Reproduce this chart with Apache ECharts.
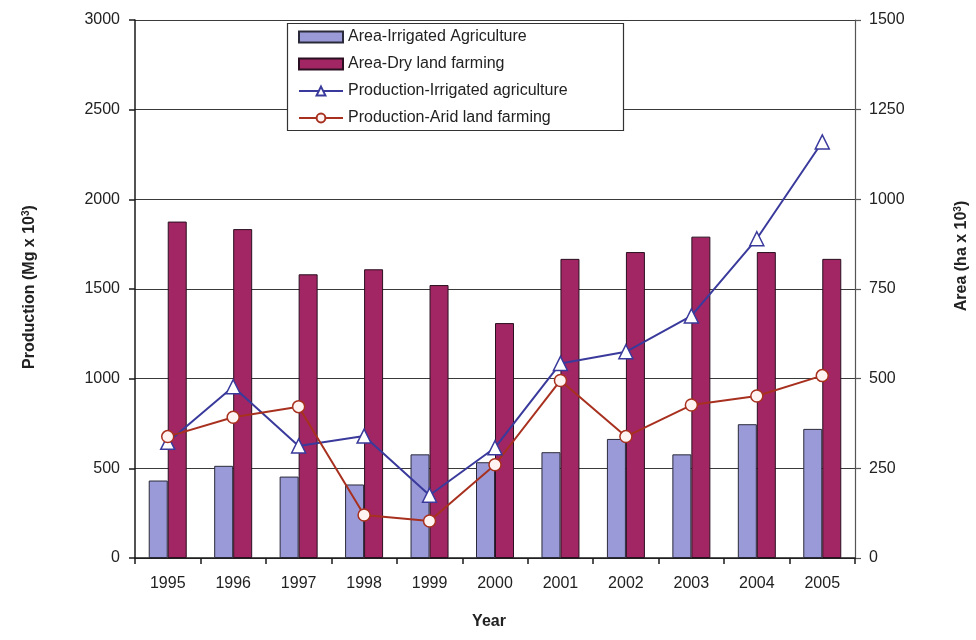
<!DOCTYPE html>
<html>
<head>
<meta charset="utf-8">
<title>Production and area, 1995–2005</title>
<script src="https://cdn.jsdelivr.net/npm/echarts@6/dist/echarts.min.js"></script>
<style>
  html, body { margin: 0; padding: 0; background: #ffffff; }
  #chart { width: 976px; height: 640px; }
</style>
</head>
<body>
<div id="chart"></div>
<script>
// Years on the category axis
var years = ['1995', '1996', '1997', '1998', '1999', '2000', '2001', '2002', '2003', '2004', '2005'];

// Cultivated area (ha x 10^3), right axis
var areaIrrigated = [216, 257, 227, 205, 289, 267, 295, 332, 289, 373, 360];
var areaDry = [938, 917, 791, 805, 761, 655, 834, 853, 896, 853, 834];

// Production (Mg x 10^3), left axis
var prodIrrigated = [645, 955, 625, 680, 350, 615, 1085, 1150, 1350, 1780, 2320];
var prodArid = [677, 785, 844, 240, 206, 520, 990, 677, 853, 903, 1017];

// Axis scales
var productionTicks = { min: 0, max: 3000, interval: 500 };
var areaTicks = { min: 0, max: 1500, interval: 250 };

var seriesNames = [
  'Area-Irrigated Agriculture',
  'Area-Dry land farming',
  'Production-Irrigated agriculture',
  'Production-Arid land farming'
];

var FONT = 'Arial, "Liberation Sans", Helvetica, sans-serif';
var TEXT = '#222222';
var AXIS = '#1a1a1a';

// plain integers, no thousands separator
function plain(v) { return String(v); }

var chart = echarts.init(document.getElementById('chart'), null, { renderer: 'canvas' });

chart.setOption({
  backgroundColor: '#ffffff',
  animation: false,
  textStyle: { fontFamily: FONT },
  grid: { left: 135, right: 121, top: 20, bottom: 82, containLabel: false },
  legend: {
    orient: 'vertical',
    left: 298,
    top: 29,
    padding: 0,
    itemWidth: 44,
    itemHeight: 11,
    itemGap: 11,
    z: 5,
    textStyle: { fontFamily: FONT, fontSize: 16, color: TEXT },
    data: [
      { name: seriesNames[0], icon: 'rect' },
      { name: seriesNames[1], icon: 'rect' },
      { name: seriesNames[2] },
      { name: seriesNames[3] }
    ]
  },
  xAxis: {
    type: 'category',
    data: years,
    boundaryGap: true,
    axisLine: { show: true, lineStyle: { color: AXIS, width: 1.5 } },
    axisTick: { show: true, length: 6, lineStyle: { color: AXIS, width: 1.5 } },
    axisLabel: { fontFamily: FONT, fontSize: 16, color: TEXT, margin: 18 },
    splitLine: { show: false }
  },
  yAxis: [
    {
      type: 'value',
      position: 'left',
      min: productionTicks.min,
      max: productionTicks.max,
      interval: productionTicks.interval,
      axisLine: { show: true, lineStyle: { color: AXIS, width: 1.5 } },
      axisTick: { show: true, length: 6, lineStyle: { color: AXIS, width: 1.5 } },
      axisLabel: { fontFamily: FONT, fontSize: 16, color: TEXT, margin: 15, formatter: plain },
      splitLine: { show: true, lineStyle: { color: '#3a3a3a', width: 1 } }
    },
    {
      type: 'value',
      position: 'right',
      min: areaTicks.min,
      max: areaTicks.max,
      interval: areaTicks.interval,
      axisLine: { show: true, lineStyle: { color: '#555555', width: 1.2 } },
      axisTick: { show: true, length: 6, lineStyle: { color: '#555555', width: 1.2 } },
      axisLabel: { fontFamily: FONT, fontSize: 16, color: TEXT, margin: 14, formatter: plain },
      splitLine: { show: false }
    }
  ],
  graphic: [
    {
      type: 'rect',
      z: 3,
      shape: { x: 287.5, y: 23.5, width: 336, height: 107 },
      style: { fill: '#ffffff', stroke: '#333333', lineWidth: 1.2 }
    },
    {
      type: 'text',
      x: 489,
      y: 622,
      style: {
        text: 'Year',
        fill: TEXT,
        font: 'bold 16px ' + FONT,
        textAlign: 'center',
        textVerticalAlign: 'middle'
      }
    },
    {
      type: 'text',
      x: 30,
      y: 287,
      rotation: Math.PI / 2,
      style: {
        text: '{a|Production (Mg x 10}{s|3}{a|)}',
        textAlign: 'center',
        textVerticalAlign: 'middle',
        rich: {
          a: { fontFamily: FONT, fontSize: 16, fontWeight: 'bold', fill: TEXT, color: TEXT },
          s: { fontFamily: FONT, fontSize: 10, fontWeight: 'bold', fill: TEXT, color: TEXT, verticalAlign: 'top', padding: [0, 0, 8, 0] }
        }
      }
    },
    {
      type: 'text',
      x: 962,
      y: 256,
      rotation: Math.PI / 2,
      style: {
        text: '{a|Area (ha x 10}{s|3}{a|)}',
        textAlign: 'center',
        textVerticalAlign: 'middle',
        rich: {
          a: { fontFamily: FONT, fontSize: 16, fontWeight: 'bold', fill: TEXT, color: TEXT },
          s: { fontFamily: FONT, fontSize: 10, fontWeight: 'bold', fill: TEXT, color: TEXT, verticalAlign: 'top', padding: [0, 0, 8, 0] }
        }
      }
    }
  ],
  series: [
    {
      name: seriesNames[0],
      type: 'bar',
      yAxisIndex: 1,
      data: areaIrrigated,
      barWidth: 19,
      barGap: '0%',
      itemStyle: { color: '#9a9ad8', borderColor: '#2a2a3a', borderWidth: 1 }
    },
    {
      name: seriesNames[1],
      type: 'bar',
      yAxisIndex: 1,
      data: areaDry,
      barWidth: 19,
      barGap: '0%',
      itemStyle: { color: '#a12663', borderColor: '#2a1020', borderWidth: 1 }
    },
    {
      name: seriesNames[2],
      type: 'line',
      yAxisIndex: 0,
      data: prodIrrigated,
      symbol: 'triangle',
      symbolSize: 14,
      z: 4,
      lineStyle: { color: '#3a3a9c', width: 2 },
      itemStyle: { color: '#ffffff', borderColor: '#3a3a9c', borderWidth: 1.5 }
    },
    {
      name: seriesNames[3],
      type: 'line',
      yAxisIndex: 0,
      data: prodArid,
      symbol: 'circle',
      symbolSize: 12,
      z: 4,
      lineStyle: { color: '#a8301f', width: 2 },
      itemStyle: { color: '#fff4f2', borderColor: '#a8301f', borderWidth: 1.5 }
    }
  ]
});
</script>
</body>
</html>
